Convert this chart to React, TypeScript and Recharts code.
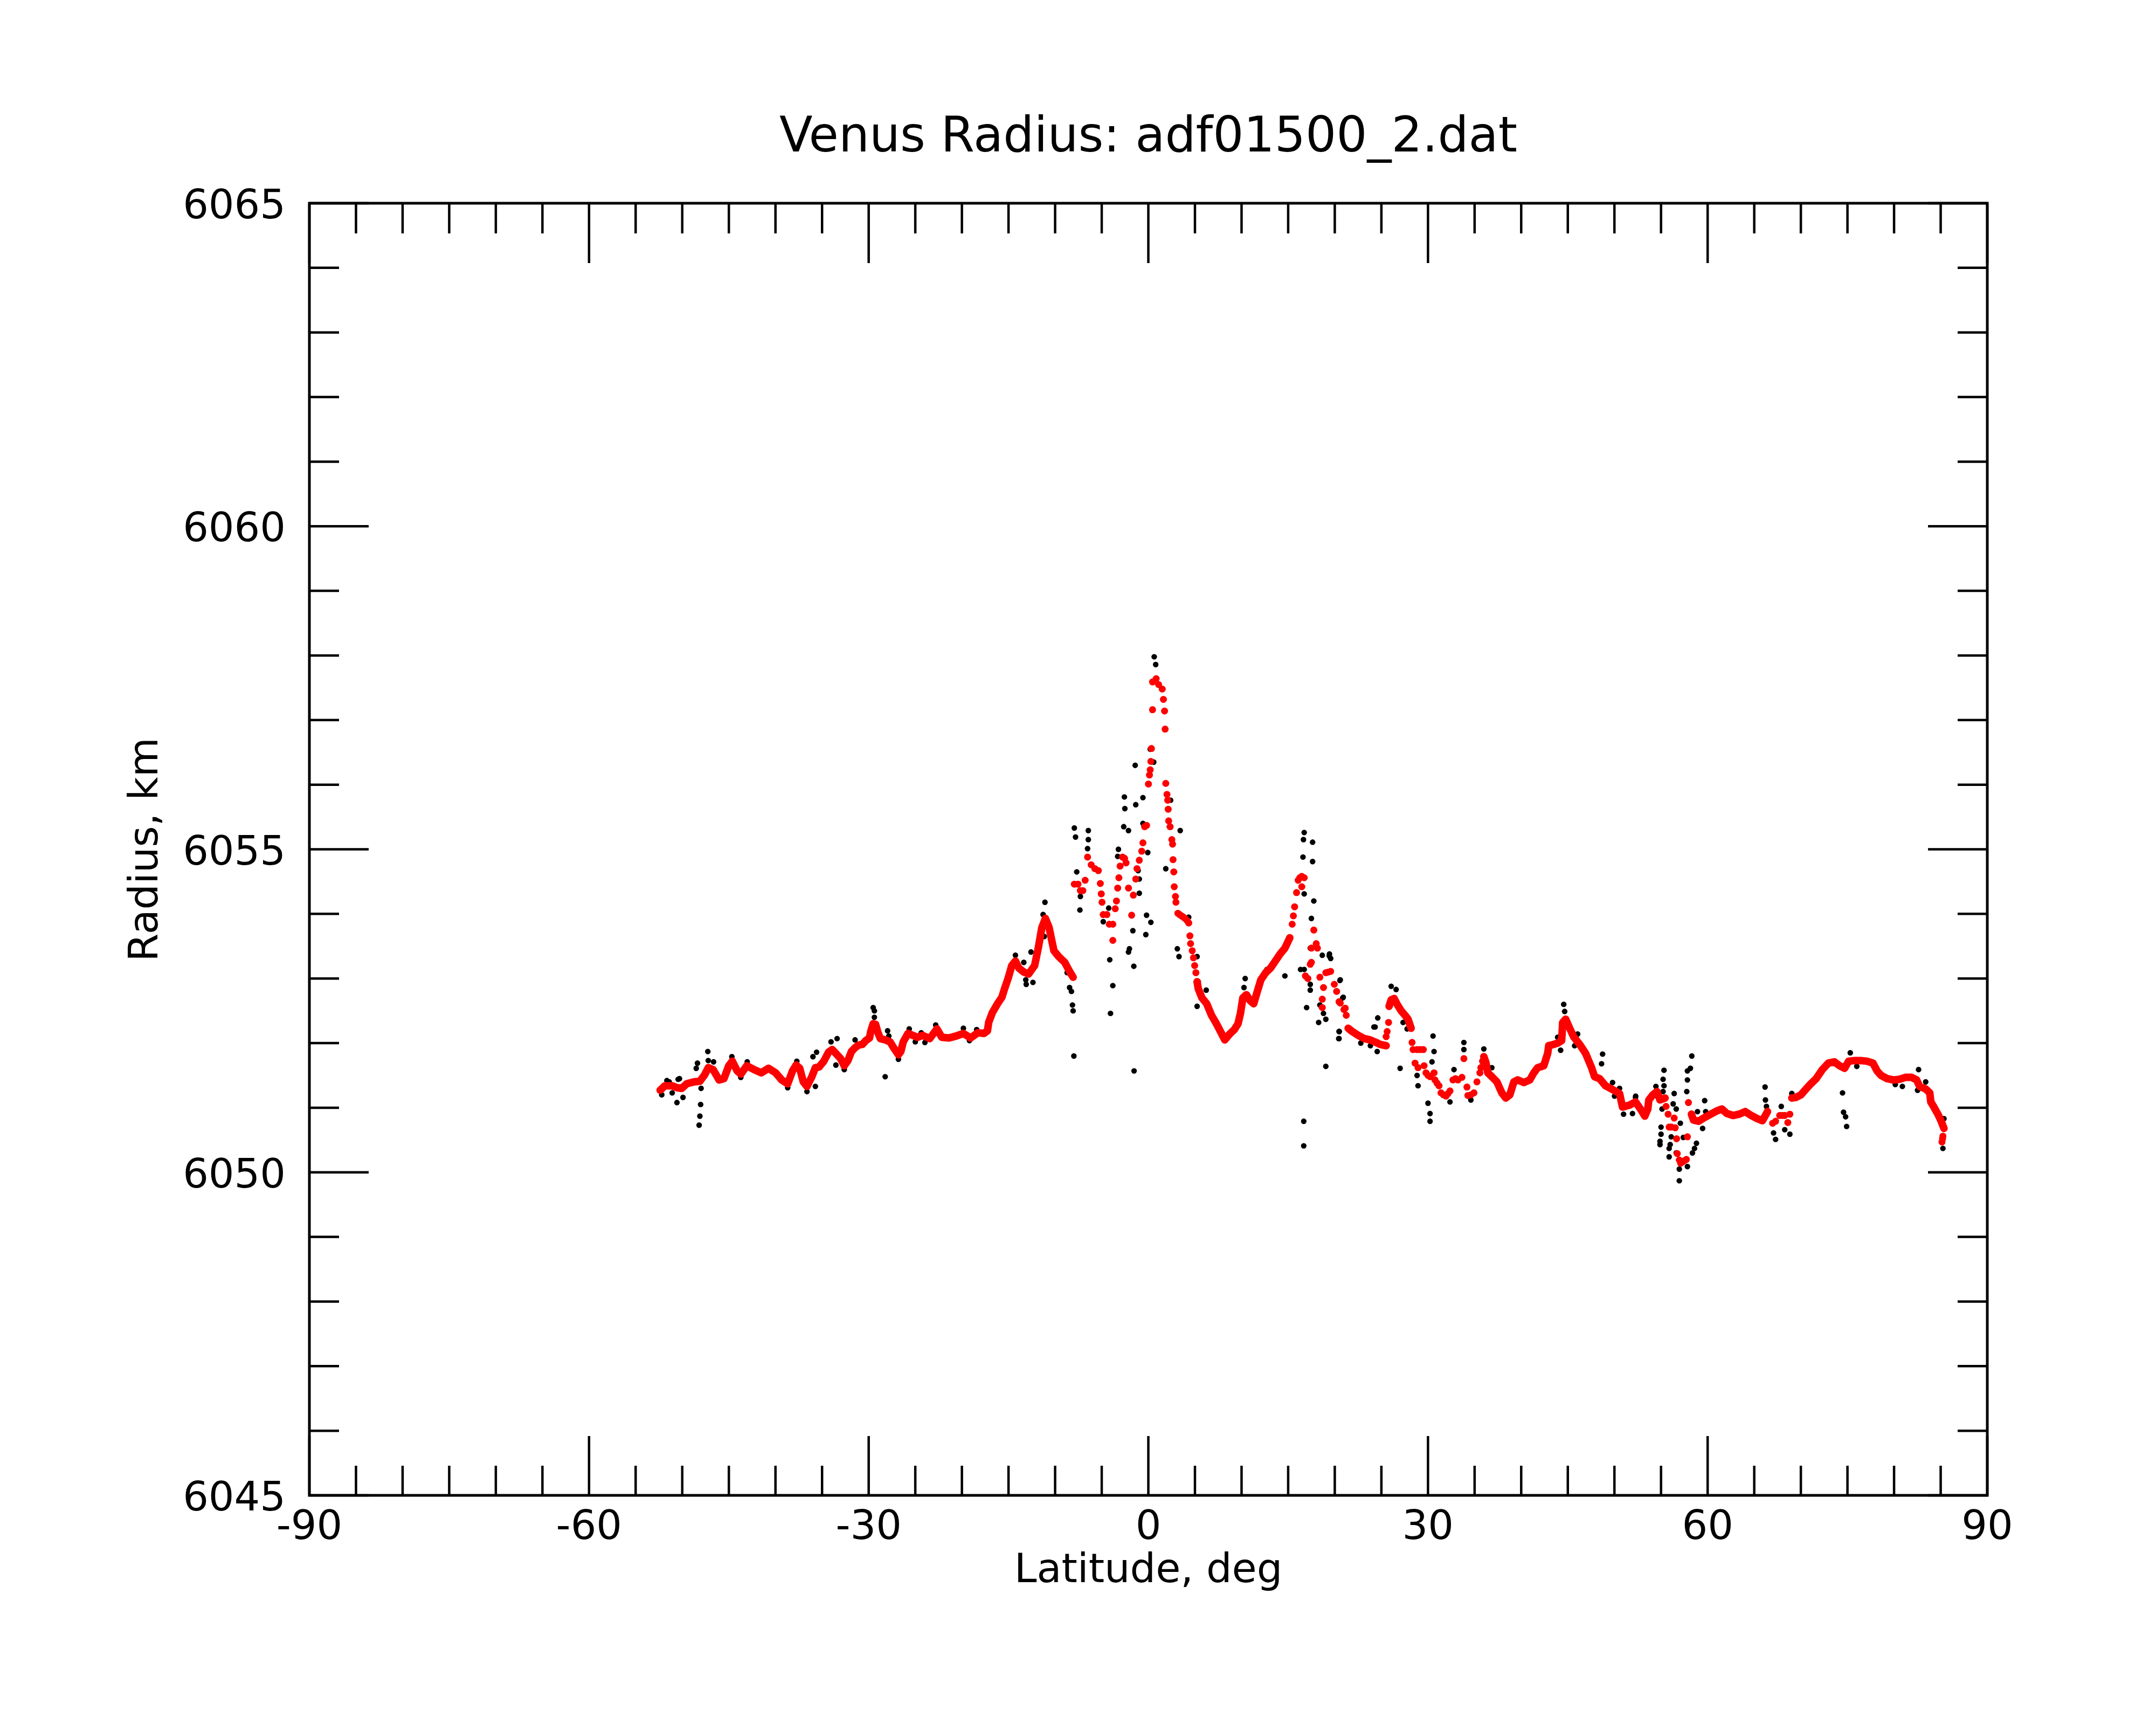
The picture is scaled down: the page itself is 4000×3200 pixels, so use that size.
import { ScatterChart, Scatter, XAxis, YAxis, ReferenceArea } from "recharts";

// latitude (deg), radius (km)
const latTicks = [
  -90, -85, -80, -75, -70, -65, -60, -55, -50, -45, -40, -35, -30, -25, -20, -15, -10, -5, 0,
  5, 10, 15, 20, 25, 30, 35, 40, 45, 50, 55, 60, 65, 70, 75, 80, 85, 90,
];
const latLabels = [-90, -60, -30, 0, 30, 60, 90];
const radiusTicks = [
  6045, 6046, 6047, 6048, 6049, 6050, 6051, 6052, 6053, 6054, 6055, 6056, 6057, 6058, 6059,
  6060, 6061, 6062, 6063, 6064, 6065,
];
const radiusLabels = [6045, 6050, 6055, 6060, 6065];

// raw radius samples (black)
const rawPoints = [
  [-52.2, 6051.2], [-51.65, 6051.42], [-51.4, 6051.4], [-51.08, 6051.23], [-50.57, 6051.08],
  [-50.44, 6051.44], [-50.3, 6051.45], [-49.92, 6051.16], [-48.5, 6051.61], [-48.37, 6051.69],
  [-47.98, 6051.3], [-48.03, 6051.05], [-48.11, 6050.87], [-48.19, 6050.73], [-47.26, 6051.87],
  [-47.21, 6051.73], [-46.64, 6051.71], [-44.68, 6051.79], [-43.72, 6051.47], [-43.03, 6051.71],
  [-38.69, 6051.31], [-37.71, 6051.72], [-36.62, 6051.25], [-35.72, 6051.33], [-35.98, 6051.79],
  [-35.59, 6051.86], [-34.04, 6052.02], [-33.39, 6052.07], [-33.52, 6051.66], [-32.62, 6051.59],
  [-31.46, 6052.05], [-29.52, 6052.55], [-29.39, 6052.5], [-29.39, 6052.4], [-28.23, 6051.48],
  [-27.97, 6052.19], [-27.84, 6052.11], [-26.81, 6051.75], [-25.65, 6052.22], [-25.0, 6052.02],
  [-24.36, 6052.16], [-23.97, 6052.01], [-22.81, 6052.28], [-19.84, 6052.23], [-19.19, 6052.04],
  [-18.42, 6052.21], [-14.26, 6053.36], [-13.36, 6053.25], [-13.15, 6052.98], [-13.1, 6052.91],
  [-12.38, 6052.94], [-12.59, 6053.41], [-11.09, 6054.18], [-11.29, 6053.99], [-11.17, 6053.65],
  [-8.71, 6053.09], [-8.45, 6052.86], [-8.25, 6052.8], [-8.14, 6052.59], [-8.07, 6052.5],
  [-7.99, 6051.8], [-7.94, 6055.33], [-7.81, 6055.19], [-6.44, 6055.29], [-6.44, 6055.15],
  [-6.52, 6055.01], [-7.68, 6054.65], [-7.34, 6054.06], [-7.29, 6054.27], [-4.84, 6053.88],
  [-4.25, 6054.09], [-4.14, 6053.29], [-3.81, 6052.89], [-4.06, 6052.46], [-3.21, 6055.0],
  [-3.29, 6054.89], [-2.57, 6055.81], [-2.52, 6055.63], [-2.64, 6055.35], [-2.13, 6055.29],
  [-1.35, 6055.69], [-1.41, 6056.3], [-0.58, 6055.8], [-0.58, 6055.4], [-0.06, 6054.95],
  [-1.1, 6054.67], [-0.97, 6054.54], [-0.97, 6054.32], [-0.19, 6053.98], [0.27, 6053.87],
  [-0.27, 6053.68], [-1.66, 6053.74], [-2.03, 6053.46], [-2.13, 6053.41], [-1.56, 6053.19],
  [-1.53, 6051.57], [0.63, 6057.98], [0.79, 6057.86], [0.2, 6056.55], [0.58, 6056.35],
  [2.39, 6055.76], [2.26, 6055.35], [3.42, 6055.29], [1.87, 6054.7], [3.11, 6053.46],
  [3.29, 6053.34], [3.68, 6053.97], [4.33, 6053.95], [5.23, 6053.34], [5.36, 6052.95],
  [5.23, 6052.57], [6.21, 6052.82], [10.39, 6053.0], [10.26, 6052.86], [12.72, 6053.14],
  [14.65, 6053.04], [16.72, 6055.26], [16.64, 6055.15], [17.62, 6055.11], [16.59, 6054.88],
  [17.62, 6054.81], [16.72, 6054.31], [17.75, 6054.2], [17.49, 6053.93], [17.37, 6053.47],
  [16.72, 6053.14], [16.33, 6053.14], [17.37, 6052.91], [17.37, 6052.82], [16.98, 6052.55],
  [18.4, 6052.59], [18.66, 6053.36], [19.43, 6053.38], [19.56, 6053.31], [18.27, 6052.32],
  [19.04, 6052.37], [18.79, 6052.46], [19.04, 6051.64], [20.46, 6052.18], [20.46, 6052.07],
  [20.59, 6052.98], [20.85, 6052.7], [22.79, 6052.0], [23.82, 6051.96], [24.2, 6052.25],
  [16.67, 6050.79], [16.67, 6050.41], [19.41, 6053.35], [20.55, 6052.97], [20.91, 6052.71],
  [20.48, 6052.18], [20.42, 6052.07], [24.61, 6052.39], [24.33, 6052.25], [24.55, 6051.87],
  [26.05, 6052.88], [26.58, 6052.83], [27.33, 6052.32], [27.76, 6052.22], [27.01, 6051.61],
  [28.83, 6051.5], [28.93, 6051.34], [30.54, 6052.11], [30.65, 6051.87], [30.43, 6051.71],
  [30.0, 6051.07], [30.22, 6050.91], [30.22, 6050.79], [32.36, 6051.09], [32.79, 6051.59],
  [33.85, 6052.01], [33.85, 6051.9], [34.6, 6051.12], [35.99, 6051.91], [36.85, 6051.62],
  [44.56, 6052.6], [44.66, 6052.49], [43.91, 6052.09], [44.23, 6051.89], [46.05, 6052.14],
  [45.73, 6051.96], [48.73, 6051.83], [48.62, 6051.68], [49.8, 6051.39], [50.55, 6051.3],
  [50.01, 6051.18], [50.98, 6050.9], [51.94, 6050.91], [52.26, 6051.16], [52.28, 6051.18],
  [54.45, 6051.33], [55.32, 6051.58], [55.22, 6051.44], [55.32, 6051.34], [55.22, 6051.25],
  [55.11, 6050.98], [56.41, 6051.22], [56.3, 6051.06], [56.63, 6050.98], [57.07, 6050.76],
  [55.0, 6050.7], [55.0, 6050.59], [54.89, 6050.48], [54.89, 6050.43], [56.09, 6050.55],
  [55.98, 6050.43], [55.87, 6050.37], [55.87, 6050.24], [56.63, 6050.3], [56.96, 6050.05],
  [56.96, 6049.87], [57.83, 6050.09], [57.39, 6050.54], [58.37, 6050.3], [58.59, 6050.37],
  [58.8, 6050.45], [57.76, 6051.25], [57.83, 6051.43], [57.83, 6051.57], [58.15, 6051.61],
  [58.3, 6051.8], [58.91, 6050.94], [59.46, 6050.68], [59.68, 6051.11], [59.79, 6050.94],
  [66.16, 6051.32], [66.2, 6051.12], [66.31, 6051.02], [67.07, 6050.61], [67.29, 6050.51],
  [67.9, 6051.02], [68.27, 6050.66], [68.82, 6050.59], [69.03, 6051.22], [74.47, 6051.23],
  [74.58, 6050.93], [74.8, 6050.86], [74.91, 6050.71], [75.3, 6051.85], [76.0, 6051.64],
  [80.13, 6051.36], [80.89, 6051.33], [82.63, 6051.59], [83.39, 6051.4], [85.24, 6050.37],
  [85.35, 6050.83], [82.52, 6051.27],
];

// smoothed radius (red), continuous runs
const smoothSouth = [
  [-52.37, 6051.27], [-51.86, 6051.34], [-51.08, 6051.34], [-50.57, 6051.31], [-50.05, 6051.3],
  [-49.53, 6051.37], [-48.76, 6051.4], [-48.11, 6051.41], [-47.6, 6051.51], [-47.21, 6051.62],
  [-46.69, 6051.59], [-46.05, 6051.43], [-45.53, 6051.45], [-45.01, 6051.65], [-44.63, 6051.72],
  [-44.11, 6051.57], [-43.72, 6051.52], [-43.08, 6051.65], [-42.3, 6051.59], [-41.53, 6051.54],
  [-40.75, 6051.61], [-39.98, 6051.54], [-39.33, 6051.43], [-38.69, 6051.37], [-38.17, 6051.57],
  [-37.78, 6051.66], [-37.4, 6051.61], [-37.01, 6051.4], [-36.62, 6051.33], [-36.1, 6051.48],
  [-35.72, 6051.62], [-35.33, 6051.63], [-34.81, 6051.72], [-34.3, 6051.86], [-33.91, 6051.9],
  [-33.52, 6051.84], [-33.01, 6051.76], [-32.62, 6051.65], [-32.23, 6051.73], [-31.85, 6051.87],
  [-31.46, 6051.93], [-31.07, 6051.97], [-30.68, 6051.98], [-30.3, 6052.04], [-29.91, 6052.08],
  [-29.78, 6052.18], [-29.52, 6052.3], [-29.26, 6052.29], [-29.0, 6052.16], [-28.75, 6052.07],
  [-28.23, 6052.05], [-27.71, 6052.02], [-27.33, 6051.93], [-26.81, 6051.82], [-26.55, 6051.87],
  [-26.29, 6052.02], [-25.78, 6052.15], [-25.26, 6052.12], [-24.75, 6052.09], [-24.23, 6052.12],
  [-23.45, 6052.07], [-22.68, 6052.22], [-22.16, 6052.09], [-21.39, 6052.08], [-20.61, 6052.11],
  [-19.84, 6052.15], [-19.07, 6052.08], [-18.29, 6052.16], [-17.64, 6052.15], [-17.26, 6052.19],
  [-17.13, 6052.32], [-16.74, 6052.47], [-16.22, 6052.6], [-15.71, 6052.71], [-15.43, 6052.84],
  [-15.05, 6053.0], [-14.65, 6053.2], [-14.26, 6053.27], [-13.88, 6053.16], [-13.36, 6053.1],
  [-12.84, 6053.07], [-12.2, 6053.2], [-11.81, 6053.47], [-11.42, 6053.79], [-11.04, 6053.93],
  [-10.65, 6053.79], [-10.13, 6053.43], [-9.62, 6053.34], [-8.97, 6053.25], [-8.45, 6053.11],
  [-8.07, 6053.02],
];
const smoothEquator = [
  [5.23, 6052.95], [5.36, 6052.84], [5.75, 6052.7], [6.26, 6052.61], [6.78, 6052.43],
  [7.3, 6052.3], [7.81, 6052.16], [8.2, 6052.05], [8.72, 6052.14], [9.23, 6052.21],
  [9.62, 6052.3], [9.88, 6052.46], [10.14, 6052.7], [10.52, 6052.75], [10.91, 6052.66],
  [11.3, 6052.61], [11.69, 6052.8], [12.07, 6052.98], [12.59, 6053.09], [13.1, 6053.16],
  [13.62, 6053.27], [14.14, 6053.38], [14.65, 6053.47], [15.17, 6053.63],
];
const smoothMid = [
  [21.44, 6052.23], [21.87, 6052.18], [22.51, 6052.12], [23.16, 6052.07], [23.8, 6052.05],
  [24.44, 6052.01], [24.87, 6051.98], [25.51, 6051.96],
];
const smoothBump = [
  [25.83, 6052.57], [26.05, 6052.67], [26.37, 6052.69], [26.69, 6052.6], [27.12, 6052.5],
  [27.54, 6052.43], [27.86, 6052.37], [28.19, 6052.23],
];
const smoothNorth = [
  [35.99, 6051.79], [36.21, 6051.7], [36.42, 6051.54], [36.85, 6051.48], [37.39, 6051.4],
  [37.92, 6051.23], [38.35, 6051.15], [38.78, 6051.2], [39.21, 6051.4], [39.63, 6051.43],
  [40.28, 6051.39], [40.92, 6051.43], [41.35, 6051.54], [41.77, 6051.62], [42.42, 6051.65],
  [42.84, 6051.84], [42.95, 6051.96], [43.49, 6051.98], [43.91, 6052.0], [44.34, 6052.04],
  [44.45, 6052.32], [44.77, 6052.37], [45.2, 6052.23], [45.62, 6052.1], [46.27, 6051.98],
  [46.91, 6051.84], [47.55, 6051.62], [47.87, 6051.48], [48.41, 6051.45], [49.05, 6051.34],
  [49.69, 6051.29], [50.55, 6051.22], [50.87, 6051.01], [51.62, 6051.04], [52.26, 6051.09],
  [52.5, 6051.04], [52.93, 6050.95], [53.26, 6050.87], [53.58, 6050.98], [53.69, 6051.12],
  [54.13, 6051.2], [54.56, 6051.25], [54.89, 6051.12], [55.43, 6051.15],
];
const smoothHigh = [
  [58.26, 6050.9], [58.48, 6050.81], [59.02, 6050.79], [59.57, 6050.84], [60.33, 6050.9],
  [60.98, 6050.95], [61.53, 6050.98], [62.07, 6050.91], [62.72, 6050.88], [63.38, 6050.9],
  [64.03, 6050.94], [64.68, 6050.88], [65.33, 6050.83], [65.88, 6050.8], [66.42, 6050.94],
];
const smoothPolar = [
  [69.03, 6051.15], [69.47, 6051.16], [70.01, 6051.2], [70.56, 6051.29], [71.0, 6051.36],
  [71.64, 6051.45], [72.3, 6051.59], [72.95, 6051.69], [73.6, 6051.71], [74.15, 6051.65],
  [74.69, 6051.61], [75.13, 6051.72], [75.78, 6051.73], [76.43, 6051.73], [77.09, 6051.72],
  [77.74, 6051.69], [78.17, 6051.57], [78.61, 6051.5], [79.26, 6051.45], [79.91, 6051.43],
  [80.57, 6051.44], [81.22, 6051.47], [81.87, 6051.47], [82.42, 6051.43], [82.74, 6051.33],
  [83.39, 6051.29], [83.83, 6051.23], [83.94, 6051.09], [84.27, 6051.01], [84.7, 6050.9],
  [85.03, 6050.8], [85.35, 6050.68],
];

// smoothed radius (red), where the samples spread out into separate dots
const smoothLoose = [
  [-7.94, 6054.46], [-7.55, 6054.46], [-7.29, 6054.36], [-7.03, 6054.36], [-6.78, 6054.52],
  [-6.52, 6054.88], [-6.13, 6054.76], [-5.74, 6054.7], [-5.36, 6054.67], [-5.15, 6054.47],
  [-5.05, 6054.31], [-4.97, 6054.18], [-4.84, 6053.99], [-4.45, 6053.99], [-4.19, 6053.84],
  [-3.81, 6053.84], [-3.81, 6053.59], [-3.55, 6054.08], [-3.42, 6054.2], [-3.29, 6054.4],
  [-3.16, 6054.56], [-3.03, 6054.74], [-2.77, 6054.88], [-2.55, 6054.86], [-2.39, 6054.79],
  [-2.13, 6054.4], [-1.79, 6053.98], [-1.61, 6054.29], [-1.35, 6054.54], [-1.22, 6054.7],
  [-0.97, 6054.83], [-0.71, 6054.97], [-0.58, 6055.1], [-0.4, 6055.35], [-0.19, 6055.37],
  [0.01, 6056.01], [0.12, 6056.15], [0.2, 6056.23], [0.27, 6056.36], [0.33, 6056.56],
  [0.45, 6057.16], [0.45, 6057.59], [0.84, 6057.64], [1.1, 6057.55], [1.49, 6057.48],
  [1.62, 6057.32], [1.74, 6057.14], [1.8, 6056.86], [1.87, 6056.02], [2.0, 6055.85],
  [2.08, 6055.76], [2.13, 6055.62], [2.18, 6055.44], [2.34, 6055.35], [2.52, 6055.15],
  [2.6, 6055.08], [2.65, 6054.84], [2.73, 6054.65], [2.78, 6054.42], [2.91, 6054.27],
  [2.96, 6054.18], [3.17, 6054.01], [3.36, 6053.99], [3.55, 6053.97], [3.75, 6053.95],
  [3.94, 6053.93], [4.14, 6053.9], [4.33, 6053.86], [4.46, 6053.66], [4.53, 6053.54],
  [4.71, 6053.43], [4.84, 6053.32], [4.97, 6053.2], [5.1, 6053.09],
  [15.43, 6053.84], [15.56, 6053.97], [15.69, 6054.11], [15.9, 6054.33], [16.07, 6054.52],
  [16.25, 6054.56], [16.46, 6054.58], [16.72, 6054.56], [16.46, 6054.42], [16.85, 6053.04],
  [17.11, 6053.0], [17.37, 6053.22], [17.49, 6053.47], [17.75, 6053.75], [18.01, 6053.54],
  [18.14, 6053.47], [17.49, 6053.25], [18.4, 6053.02], [18.79, 6052.86], [18.66, 6052.68],
  [18.66, 6052.55], [19.04, 6053.09], [19.3, 6053.1], [19.56, 6053.11], [19.95, 6052.91],
  [20.2, 6052.8], [20.46, 6052.64], [20.59, 6052.62], [20.98, 6052.52], [21.12, 6052.54],
  [21.23, 6052.43], [25.51, 6052.1], [25.62, 6052.18], [25.77, 6052.32],
  [28.29, 6052.01], [28.4, 6051.9], [28.83, 6051.9], [29.15, 6051.9], [29.5, 6051.9],
  [28.61, 6051.69], [28.93, 6051.62], [29.58, 6051.65], [29.79, 6051.54], [30.0, 6051.5],
  [30.22, 6051.48], [30.65, 6051.54], [30.75, 6051.43], [30.97, 6051.38], [31.18, 6051.34],
  [31.4, 6051.23], [31.65, 6051.2], [31.93, 6051.18], [32.15, 6051.22], [32.36, 6051.26],
  [32.68, 6051.43], [32.95, 6051.45], [33.21, 6051.43], [33.64, 6051.47], [33.85, 6051.76],
  [34.18, 6051.32], [34.28, 6051.19], [34.6, 6051.2], [34.93, 6051.23], [35.25, 6051.4],
  [35.57, 6051.54], [35.67, 6051.62], [35.85, 6051.72],
  [55.54, 6051.02], [55.76, 6050.9], [56.41, 6050.84], [55.87, 6050.7], [56.1, 6050.7],
  [56.52, 6050.69], [56.67, 6050.52], [56.74, 6050.29], [56.96, 6050.19], [57.1, 6050.14],
  [57.28, 6050.16], [57.5, 6050.18], [57.72, 6050.2], [57.83, 6050.55], [57.94, 6051.08],
  [66.97, 6050.76], [67.29, 6050.79], [67.73, 6050.88], [68.0, 6050.88], [68.27, 6050.88],
  [68.6, 6050.77], [68.82, 6050.9], [85.24, 6050.56], [85.14, 6050.47], [85.2, 6050.52],
];

const smoothRuns = [smoothSouth, smoothEquator, smoothMid, smoothBump, smoothNorth, smoothHigh, smoothPolar];

const toPoints = (list: number[][]) => list.map(([lat, radius]) => ({ lat, radius }));

const FONT = "DejaVu Sans";

// plot box in pixels (axes take 1px each of the margin)
const W = 4000;
const H = 3200;
const PLOT_LEFT = 574;
const PLOT_RIGHT = 3687;
const PLOT_TOP = 378;
const PLOT_BOTTOM = 2774;
const margin = { top: PLOT_TOP - 1, right: W - PLOT_RIGHT - 1, bottom: H - PLOT_BOTTOM - 1, left: PLOT_LEFT - 1 };
const midX = (PLOT_LEFT + PLOT_RIGHT) / 2;
const midY = (PLOT_TOP + PLOT_BOTTOM) / 2;

const blackDot = (props: any) => <circle cx={props.cx} cy={props.cy} r={5.2} fill="#000" />;
const redDot = (props: any) => <circle cx={props.cx} cy={props.cy} r={6.5} fill="#ff0000" />;

// bottom axis also carries the matching inward ticks along the top edge
const LatTick = (props: any) => {
  const { x, y, payload } = props;
  const major = latLabels.includes(payload.value);
  const len = major ? 110 : 55;
  return (
    <g>
      <line x1={x} y1={y} x2={x} y2={y - len} stroke="#000" strokeWidth={4.5} />
      <line x1={x} y1={PLOT_TOP} x2={x} y2={PLOT_TOP + len} stroke="#000" strokeWidth={4.5} />
      {major && (
        <text x={x} y={y + 81} textAnchor="middle" fontSize={75} fontFamily={FONT} fill="#000">
          {payload.value}
        </text>
      )}
    </g>
  );
};

const LeftTick = (props: any) => {
  const { x, y, payload } = props;
  const major = radiusLabels.includes(payload.value);
  return (
    <g>
      <line x1={x} y1={y} x2={x + (major ? 110 : 55)} y2={y} stroke="#000" strokeWidth={4.5} />
      {major && (
        <text x={x - 44} y={y + 28} textAnchor="end" fontSize={75} fontFamily={FONT} fill="#000">
          {payload.value}
        </text>
      )}
    </g>
  );
};

const RightTick = (props: any) => {
  const { x, y, payload } = props;
  const major = radiusLabels.includes(payload.value);
  return <line x1={x} y1={y} x2={x - (major ? 110 : 55)} y2={y} stroke="#000" strokeWidth={4.5} />;
};

const App = () => {
  return (
    <div style={{ position: "absolute", left: 0, top: 0, width: W, height: H, background: "#fff" }}>
      <ScatterChart width={W} height={H} margin={margin}>
        <XAxis
          type="number"
          dataKey="lat"
          domain={[-90, 90]}
          ticks={latTicks}
          interval={0}
          height={1}
          tickSize={0}
          tickMargin={0}
          axisLine={false}
          tickLine={false}
          tick={LatTick}
          allowDataOverflow
        />
        <YAxis
          type="number"
          dataKey="radius"
          domain={[6045, 6065]}
          ticks={radiusTicks}
          interval={0}
          width={1}
          tickSize={0}
          tickMargin={0}
          axisLine={false}
          tickLine={false}
          tick={LeftTick}
          allowDataOverflow
        />
        <YAxis
          yAxisId="right"
          orientation="right"
          type="number"
          domain={[6045, 6065]}
          ticks={radiusTicks}
          interval={0}
          width={1}
          tickSize={0}
          tickMargin={0}
          axisLine={false}
          tickLine={false}
          tick={RightTick}
          allowDataOverflow
        />
        <ReferenceArea
          x1={-90}
          x2={90}
          y1={6045}
          y2={6065}
          fill="none"
          fillOpacity={0}
          stroke="#000"
          strokeWidth={5}
          ifOverflow="visible"
        />
        <Scatter data={toPoints(rawPoints)} fill="#000" shape={blackDot} isAnimationActive={false} />
        {smoothRuns.map((run, i) => (
          <Scatter
            key={i}
            data={toPoints(run)}
            fill="#ff0000"
            shape={redDot}
            line={{ stroke: "#ff0000", strokeWidth: 14, strokeLinejoin: "round", strokeLinecap: "round" }}
            lineType="joint"
            isAnimationActive={false}
          />
        ))}
        <Scatter data={toPoints(smoothLoose)} fill="#ff0000" shape={redDot} isAnimationActive={false} />
      </ScatterChart>
      <svg
        width={W}
        height={H}
        style={{ position: "absolute", left: 0, top: 0, pointerEvents: "none" }}
      >
        <text x={midX} y={281} textAnchor="middle" fontSize={90} fontFamily={FONT} fill="#000">
          Venus Radius: adf01500_2.dat
        </text>
        <text x={midX} y={2935} textAnchor="middle" fontSize={75} fontFamily={FONT} fill="#000">
          Latitude, deg
        </text>
        <text
          x={292}
          y={midY}
          textAnchor="middle"
          fontSize={75}
          fontFamily={FONT}
          fill="#000"
          transform={`rotate(-90 292 ${midY})`}
        >
          Radius, km
        </text>
      </svg>
    </div>
  );
};

export default App;
